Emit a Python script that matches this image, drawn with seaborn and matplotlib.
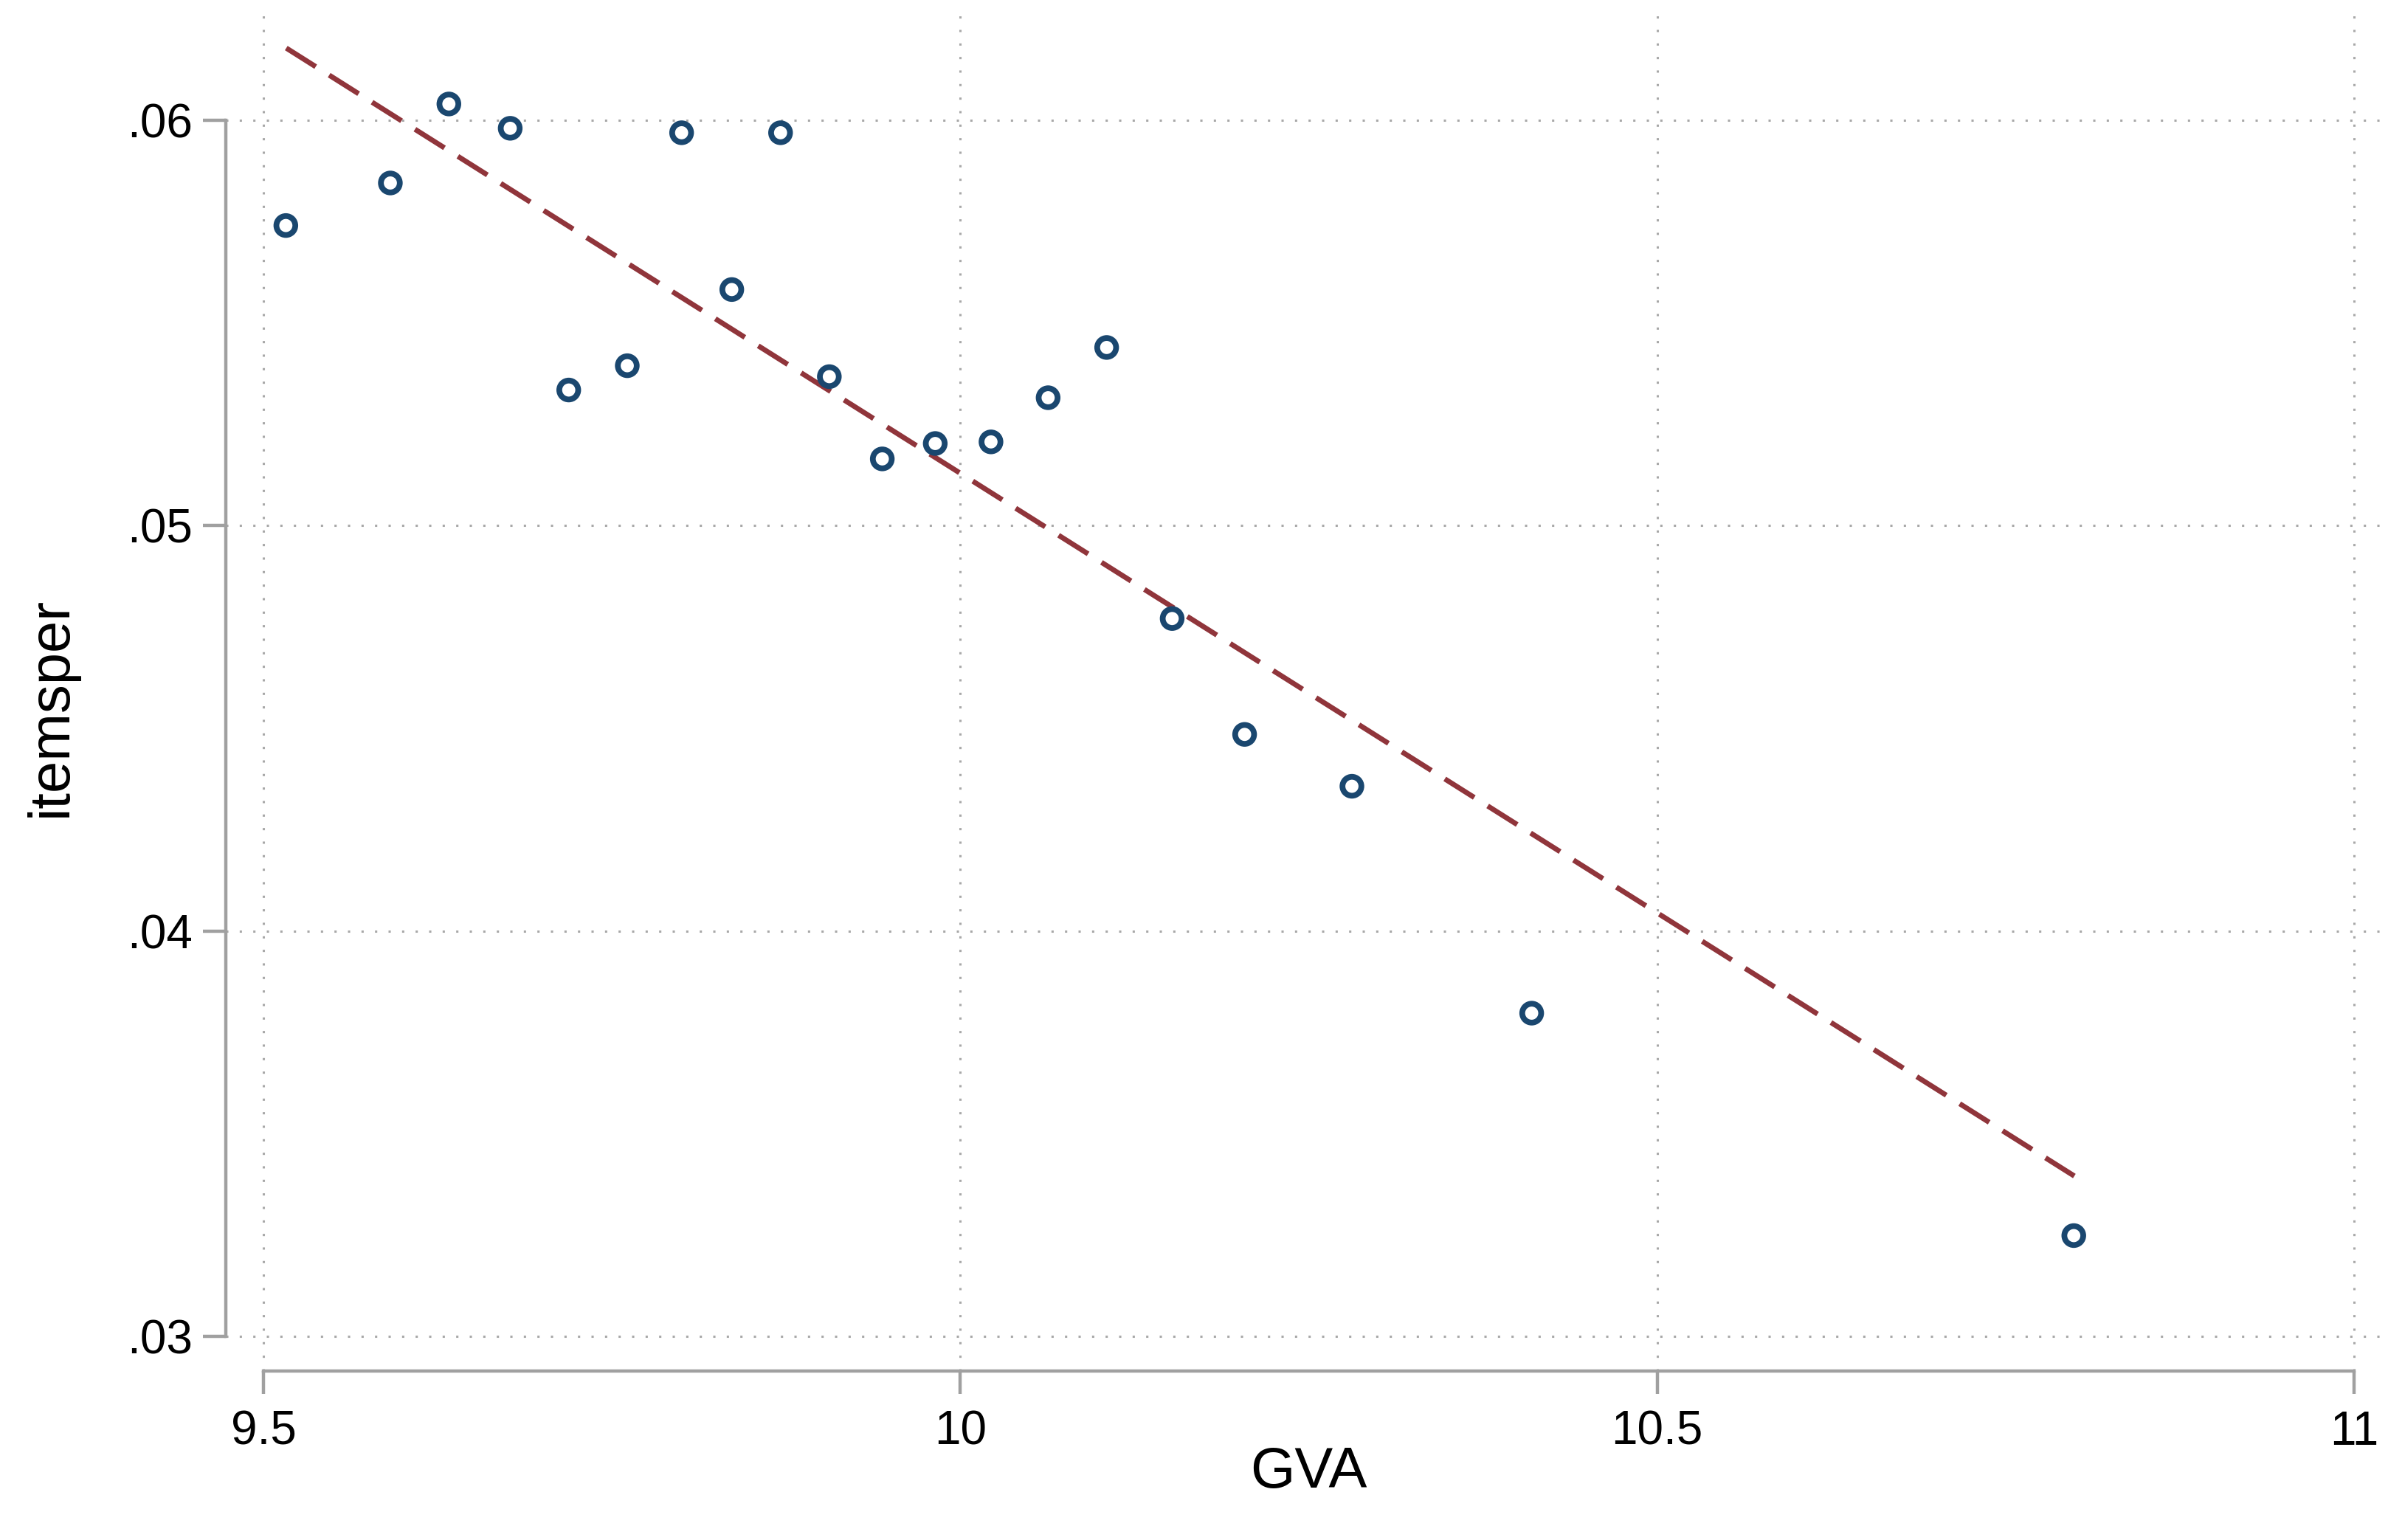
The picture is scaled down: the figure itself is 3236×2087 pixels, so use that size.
import numpy as np
import matplotlib.pyplot as plt
import pandas as pd
import seaborn as sns

# values
gva = [9.516, 9.591, 9.633, 9.677, 9.719, 9.761, 9.800, 9.836, 9.871, 9.906,
       9.944, 9.982, 10.022, 10.063, 10.105, 10.152, 10.204, 10.281, 10.410, 10.799]
itemsper = [0.05741, 0.05846, 0.06041, 0.05981, 0.05335, 0.05395, 0.05970, 0.05583, 0.05970, 0.05368,
            0.05165, 0.05203, 0.05207, 0.05316, 0.05440, 0.04771, 0.04485, 0.04357, 0.03797, 0.03248]

# fitted line, end points
fit_x = [9.5163, 10.7994]
fit_y = [0.06179, 0.03395]

x_ticks = [9.5, 10, 10.5, 11]
x_tick_labels = ["9.5", "10", "10.5", "11"]
y_ticks = [0.03, 0.04, 0.05, 0.06]
y_tick_labels = [".03", ".04", ".05", ".06"]

df = pd.DataFrame({"GVA": gva, "itemsper": itemsper})
fit = pd.DataFrame({"GVA": fit_x, "itemsper": fit_y})

sns.set_style("white")
plt.rcParams['font.family'] = ['Liberation Sans', 'DejaVu Sans']

fig = plt.figure(figsize=(16.185, 10.435), dpi=200)
ax = fig.add_axes([0.0944, 0.1098, 0.9056, 0.8803])

# fitted line
sns.lineplot(data=fit, x="GVA", y="itemsper", ax=ax, color="#90353b",
             lw=2.5, dashes=False, linestyle=(0, (6.8, 3.1)))
# hollow markers
sns.scatterplot(data=df, x="GVA", y="itemsper", ax=ax, marker="o", s=85,
                facecolor="none", edgecolor="#1a476f", linewidth=2.8, zorder=3)

ax.set_xlim(9.4727, 11.025)
ax.set_ylim(0.02914, 0.0626)
ax.set_xticks(x_ticks)
ax.set_xticklabels(x_tick_labels)
ax.set_yticks(y_ticks)
ax.set_yticklabels(y_tick_labels)

ax.set_axisbelow(True)
ax.grid(True, ls=(0, (1, 5)), color="#a8a8a8", lw=1.1)

for s in ["top", "right"]:
    ax.spines[s].set_visible(False)
for s in ["left", "bottom"]:
    ax.spines[s].set_color("#a0a0a0")
    ax.spines[s].set_linewidth(1.6)
ax.spines["left"].set_bounds(0.03, 0.06)
ax.spines["bottom"].set_bounds(9.5, 11)

ax.tick_params(length=11, width=1.6, color="#a0a0a0", labelsize=23,
               labelcolor="black", left=True, bottom=True)
ax.tick_params(axis="x", pad=8)
ax.tick_params(axis="y", pad=5)

ax.set_xlabel("GVA", fontsize=28, color="black")
ax.set_ylabel("itemsper", fontsize=28, color="black")
ax.xaxis.set_label_coords(0.5007, -0.055)
ax.yaxis.set_label_coords(-0.068, 0.49)

fig.savefig("out.png", dpi=200)
